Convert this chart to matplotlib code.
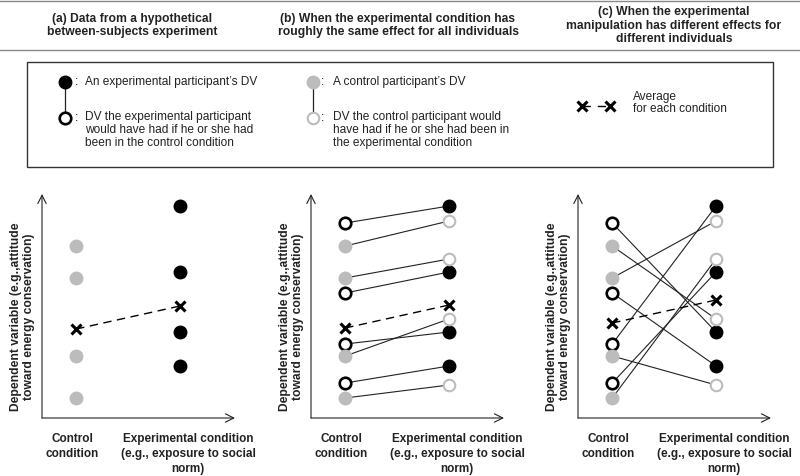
import numpy as np
import matplotlib
matplotlib.use("Agg")
import matplotlib.pyplot as plt
from matplotlib.patches import Rectangle
from matplotlib.transforms import ScaledTranslation

plt.rcParams['font.family'] = ['Liberation Sans', 'DejaVu Sans']

# DV values (arbitrary units, 0 = x axis)
exp_actual = [10.6, 7.3, 4.3, 2.6]      # experimental participants, black dots
exp_cf = [9.75, 6.25, 3.7, 1.75]        # same people had they been controls, open black
ctrl_actual = [8.6, 7.0, 3.1, 1.0]      # control participants, grey dots
ctrl_cf = [9.85, 7.95, 4.95, 1.65]      # same people had they been treated, open grey

# who is paired with whom in panel (c)
pair_exp_c = [2, 3, 0, 1]
pair_ctrl_c = [2, 0, 3, 1]

# averages drawn as crosses (control, experimental)
avg_a = [4.45, 5.6]
avg_b = [4.5, 5.65]
avg_c = [4.75, 5.9]

titles = ["(a) Data from a hypothetical\nbetween-subjects experiment",
          "(b) When the experimental condition has\nroughly the same effect for all individuals",
          "(c) When the experimental\nmanipulation has different effects for\ndifferent individuals"]
x_labels = ["Control\ncondition", "Experimental condition\n(e.g., exposure to social\nnorm)"]
y_label = "Dependent variable (e.g.,attitude\ntoward energy conservation)"

GREY = '#bcbcbc'
W, H = 800, 476

fig = plt.figure(figsize=(8, 4.76), dpi=100)

# overlay axis in pixel coords for headers / legend box
bg = fig.add_axes([0, 0, 1, 1])
bg.set_xlim(0, W)
bg.set_ylim(H, 0)
bg.axis('off')

bg.plot([0, W], [1, 1], color='#888888', lw=1.0)
bg.plot([0, W], [50, 50], color='#888888', lw=1.0)
for t, cx in zip(titles, [132, 398, 674]):
    bg.text(cx, 25.5, t, ha='center', va='center', fontsize=8.7, fontweight='bold',
            linespacing=1.15, color='#222222')

# legend box
bg.add_patch(Rectangle((27, 62), 746, 105, fill=False, edgecolor='#333333', lw=1.0))
bg.plot([65, 65], [82, 118], color='#222222', lw=0.9, zorder=1)
bg.plot(65, 82, 'o', ms=9, color='black', zorder=3)
bg.plot(65, 118, 'o', ms=8.3, mfc='white', mec='black', mew=1.9, zorder=3)
bg.plot([313, 313], [82, 118], color='#222222', lw=0.9, zorder=1)
bg.plot(313, 82, 'o', ms=9, color=GREY, zorder=3)
bg.plot(313, 118, 'o', ms=8.3, mfc='white', mec=GREY, mew=1.5, zorder=3)
lfs = 8.6
for x in [76, 323]:
    bg.text(x, 82, ':', ha='center', va='center', fontsize=lfs)
    bg.text(x, 118, ':', ha='center', va='center', fontsize=lfs)
bg.text(85, 82, "An experimental participant\u2019s DV", va='center', fontsize=lfs, color='#222222')
bg.text(85, 111, "DV the experimental participant\nwould have had if he or she had\nbeen in the control condition",
        va='top', fontsize=lfs, linespacing=1.13, color='#222222')
bg.text(333, 82, "A control participant\u2019s DV", va='center', fontsize=lfs, color='#222222')
bg.text(333, 111, "DV the control participant would\nhave had if he or she had been in\nthe experimental condition",
        va='top', fontsize=lfs, linespacing=1.13, color='#222222')
bg.plot([582, 610], [106, 106], color='black', lw=1.0, dashes=(6, 5), dash_capstyle='butt')
bg.plot([582, 610], [106, 106], 'x', color='black', ms=7, mew=2.2, lw=0)
bg.text(633, 103, "Average\nfor each condition", va='center', fontsize=lfs, linespacing=1.1, color='#222222')


def make_axes(left_px):
    ax = fig.add_axes([left_px / W, 1 - 418 / H, 193 / W, 224 / H])
    ax.set_xlim(-0.33, 1.53)
    ax.set_ylim(0, 11.2)
    for s in ax.spines.values():
        s.set_visible(False)
    ax.set_yticks([])
    ax.set_xticks([0, 1])
    ax.set_xticklabels(x_labels, fontsize=8.5, fontweight='bold', linespacing=1.3, color='#222222')
    ax.tick_params(axis='x', length=0, pad=11)
    # nudge the two labels a bit like the original
    for lab, dx in zip(ax.get_xticklabels(), [-4, 8]):
        lab.set_transform(lab.get_transform() + ScaledTranslation(dx / 100, 0, fig.dpi_scale_trans))
    ax.set_ylabel(y_label, fontsize=8.7, fontweight='bold', linespacing=1.15, color='#222222')
    ax.yaxis.set_label_coords(-7 / 193, 0.453)
    arrow = dict(arrowstyle='->,head_length=0.6,head_width=0.3', lw=0.8, color='#222222',
                 shrinkA=0, shrinkB=0)
    ax.annotate('', xy=(0, 1), xytext=(0, 0), xycoords='axes fraction', arrowprops=arrow)
    ax.annotate('', xy=(1, 0), xytext=(0, 0), xycoords='axes fraction', arrowprops=arrow)
    return ax


def draw_avg(ax, avg):
    ax.plot([0, 1], avg, color='black', lw=1.0, dashes=(6, 4), zorder=2)
    ax.plot([0, 1], avg, 'x', color='black', ms=7, mew=2.2, lw=0, zorder=4)


def draw_pairs(ax, exp_idx, ctrl_idx):
    for i, j in enumerate(exp_idx):
        ax.plot([0, 1], [exp_cf[i], exp_actual[j]], color='#222222', lw=0.8, zorder=1)
    for i, j in enumerate(ctrl_idx):
        ax.plot([0, 1], [ctrl_actual[i], ctrl_cf[j]], color='#222222', lw=0.8, zorder=1)
    ax.plot(np.zeros(4), exp_cf, 'o', ms=8.3, mfc='white', mec='black', mew=1.9, zorder=3)
    ax.plot(np.ones(4), exp_actual, 'o', ms=9, color='black', zorder=3)
    ax.plot(np.zeros(4), ctrl_actual, 'o', ms=9, color=GREY, zorder=3)
    ax.plot(np.ones(4), ctrl_cf, 'o', ms=8.3, mfc='white', mec=GREY, mew=1.5, zorder=3)


# (a) only the observed data
ax_a = make_axes(42)
ax_a.plot(np.zeros(4), ctrl_actual, 'o', ms=9, color=GREY, zorder=3)
ax_a.plot(np.ones(4), exp_actual, 'o', ms=9, color='black', zorder=3)
draw_avg(ax_a, avg_a)

# (b) same effect for everybody
ax_b = make_axes(311)
draw_pairs(ax_b, [0, 1, 2, 3], [0, 1, 2, 3])
draw_avg(ax_b, avg_b)

# (c) different effects
ax_c = make_axes(578)
draw_pairs(ax_c, pair_exp_c, pair_ctrl_c)
draw_avg(ax_c, avg_c)

fig.savefig('out.png', dpi=100)
